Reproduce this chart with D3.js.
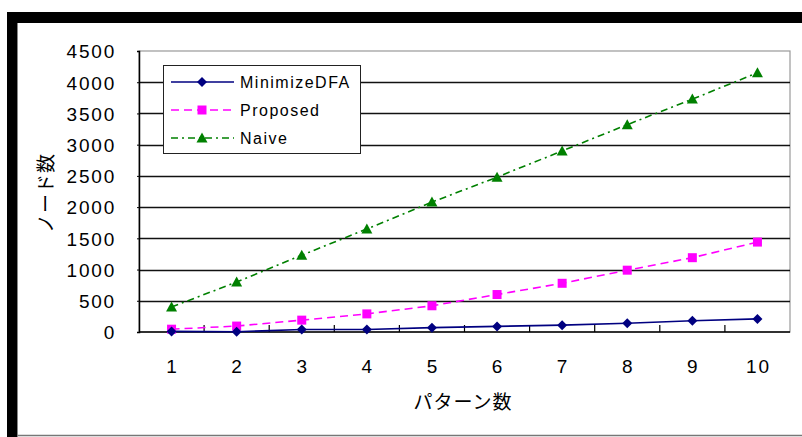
<!DOCTYPE html>
<html>
<head>
<meta charset="utf-8">
<script src="https://cdn.jsdelivr.net/npm/d3@7"></script>
<style>
  html, body { margin: 0; padding: 0; background: #fff; }
  svg { display: block; }
  .num { font-family: "Liberation Sans", Arial, sans-serif; font-size: 19px; fill: #000; }
  .jp { font-family: "Noto Sans CJK JP", sans-serif; font-size: 19px; fill: #000; }
  .leg { font-family: "Liberation Sans", Arial, sans-serif; font-size: 16px; letter-spacing: 1.5px; fill: #000; }
</style>
</head>
<body>
<svg id="chart" width="802" height="437"></svg>
<script>
// Pattern count on the x axis, node counts for each method
const categories = [1, 2, 3, 4, 5, 6, 7, 8, 9, 10];
const minimizeDFA = [10, 5, 40, 40, 70, 90, 110, 140, 180, 210];
const proposed = [45, 95, 190, 290, 420, 600, 780, 990, 1190, 1440];
const naive = [400, 800, 1230, 1650, 2080, 2480, 2900, 3320, 3730, 4150];
const yTicks = [0, 500, 1000, 1500, 2000, 2500, 3000, 3500, 4000, 4500];
const seriesNames = ["MinimizeDFA", "Proposed", "Naive"];
const xTitle = "パターン数";
const yTitle = "ノード数";

const svg = d3.select("#chart");

// window frame
svg.append("rect").attr("x", 7).attr("y", 12).attr("width", 795).attr("height", 11).attr("fill", "#000");
svg.append("rect").attr("x", 7).attr("y", 12).attr("width", 10).attr("height", 425).attr("fill", "#000");
svg.append("line").attr("x1", 17.5).attr("x2", 17.5).attr("y1", 23).attr("y2", 437)
  .attr("stroke", "#888").attr("stroke-width", 1);
svg.append("line").attr("x1", 17).attr("x2", 802).attr("y1", 435.5).attr("y2", 435.5)
  .attr("stroke", "#777").attr("stroke-width", 1.5);

const plot = { left: 139, right: 790, top: 51, bottom: 332 };

const x = d3.scaleBand().domain(categories).range([plot.left, plot.right]);
const y = d3.scaleLinear().domain([0, 4500]).range([plot.bottom, plot.top]);
const cx = d => x(d) + x.bandwidth() / 2;

// plot area border (top / right)
svg.append("rect")
  .attr("x", plot.left).attr("y", plot.top)
  .attr("width", plot.right - plot.left).attr("height", plot.bottom - plot.top)
  .attr("fill", "#fff").attr("stroke", "#999").attr("stroke-width", 1.2);

// horizontal gridlines
svg.append("g").selectAll("line")
  .data(yTicks.filter(v => v > 0 && v < 4500))
  .join("line")
  .attr("x1", plot.left).attr("x2", plot.right)
  .attr("y1", d => Math.round(y(d)) + 0.5).attr("y2", d => Math.round(y(d)) + 0.5)
  .attr("stroke", "#111").attr("stroke-width", 1.3);

// y axis
const yAxis = d3.axisLeft(y).tickValues(yTicks).tickFormat(d3.format("d")).tickSize(2).tickPadding(21);
const gy = svg.append("g").attr("transform", `translate(${plot.left},0)`).call(yAxis);
gy.select(".domain").attr("stroke", "#000").attr("stroke-width", 1.5);
gy.selectAll(".tick line").attr("stroke", "#000");
gy.selectAll(".tick text").attr("class", "num").attr("font-family", null).attr("font-size", null)
  .style("letter-spacing", "1.8px").attr("dy", "0.36em");

// x axis with inner ticks at category boundaries
svg.append("line").attr("x1", plot.left).attr("x2", plot.right)
  .attr("y1", plot.bottom).attr("y2", plot.bottom).attr("stroke", "#000").attr("stroke-width", 1.5);
svg.append("g").selectAll("line")
  .data(categories.slice(1))
  .join("line")
  .attr("x1", d => x(d)).attr("x2", d => x(d))
  .attr("y1", plot.bottom).attr("y2", plot.bottom - 7)
  .attr("stroke", "#000").attr("stroke-width", 1.2);
svg.append("g").selectAll("text")
  .data(categories)
  .join("text")
  .attr("class", "num")
  .attr("x", d => cx(d) + 1).attr("y", 373)
  .attr("text-anchor", "middle")
  .style("letter-spacing", "2px")
  .text(d => d);

// axis titles
svg.append("text").attr("class", "jp")
  .attr("x", 463).attr("y", 409).attr("text-anchor", "middle")
  .style("letter-spacing", "1px")
  .text(xTitle);
svg.append("text").attr("class", "jp")
  .attr("transform", "translate(53,193) rotate(-90)")
  .attr("text-anchor", "middle")
  .style("letter-spacing", "1px")
  .text(yTitle);

// series definitions
const series = [
  { name: seriesNames[0], values: minimizeDFA, color: "#000080", dash: null, marker: "diamond" },
  { name: seriesNames[1], values: proposed, color: "#ff00ff", dash: "8,5", marker: "square" },
  { name: seriesNames[2], values: naive, color: "#008000", dash: "7,4,2,4", marker: "triangle" }
];

const markerPath = {
  diamond: "M0,-5L5,0L0,5L-5,0Z",
  square: "M-4.5,-4.5H4.5V4.5H-4.5Z",
  triangle: "M0,-5.5L5.5,4.5H-5.5Z"
};

const line = d3.line().x((d, i) => cx(categories[i])).y(d => y(d));

// draw the later series first so MinimizeDFA sits on top
series.slice().reverse().forEach(s => {
  svg.append("path")
    .attr("d", line(s.values))
    .attr("fill", "none")
    .attr("stroke", s.color)
    .attr("stroke-width", 1.6)
    .attr("stroke-dasharray", s.dash);
});
series.slice().reverse().forEach(s => {
  svg.append("g").selectAll("path")
    .data(s.values)
    .join("path")
    .attr("transform", (d, i) => `translate(${cx(categories[i])},${y(d)})`)
    .attr("d", markerPath[s.marker])
    .attr("fill", s.color);
});

// legend
const legend = svg.append("g");
legend.append("rect")
  .attr("x", 163.5).attr("y", 65.5).attr("width", 197).attr("height", 88)
  .attr("fill", "#fff").attr("stroke", "#222").attr("stroke-width", 1);
series.forEach((s, i) => {
  const ly = 82 + i * 28;
  legend.append("line")
    .attr("x1", 171).attr("x2", 234).attr("y1", ly).attr("y2", ly)
    .attr("stroke", s.color).attr("stroke-width", 1.6)
    .attr("stroke-dasharray", s.dash);
  legend.append("path")
    .attr("transform", `translate(202,${ly})`)
    .attr("d", markerPath[s.marker])
    .attr("fill", s.color);
  legend.append("text").attr("class", "leg")
    .attr("x", 240).attr("y", ly + 6)
    .text(s.name);
});
</script>
</body>
</html>
